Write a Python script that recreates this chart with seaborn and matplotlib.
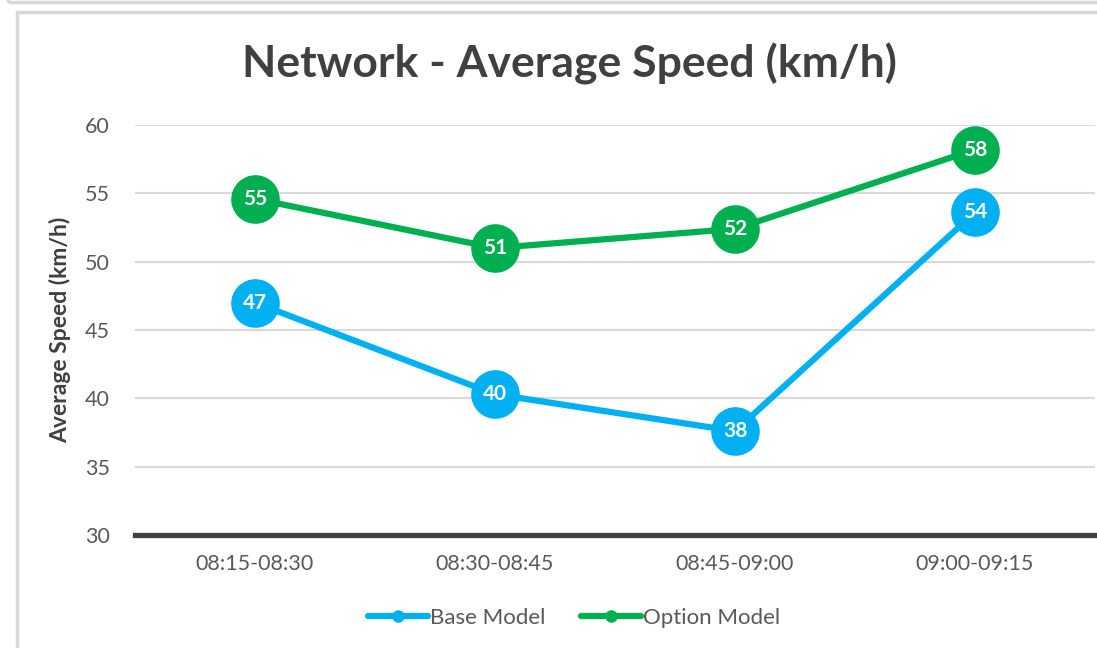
import matplotlib
matplotlib.use("Agg")
import matplotlib.pyplot as plt
import pandas as pd
import seaborn as sns
from matplotlib.lines import Line2D
from matplotlib.patches import Rectangle

periods = ["08:15-08:30", "08:30-08:45", "08:45-09:00", "09:00-09:15"]
base_speed = [47.0, 40.3, 37.6, 53.6]
option_speed = [54.6, 51.0, 52.4, 58.2]
series_names = ["Base Model", "Option Model"]
y_ticks = [30, 35, 40, 45, 50, 55, 60]

COLORS = {"Base Model": "#00B0F0", "Option Model": "#00B050"}
FONT = "Lato"

df = pd.DataFrame({
    "period": periods * 2,
    "speed": base_speed + option_speed,
    "model": [series_names[0]] * len(periods) + [series_names[1]] * len(periods),
})

sns.set_style("white")
plt.rcParams["font.family"] = [FONT, "DejaVu Sans"]

fig = plt.figure(figsize=(10.97, 6.48), dpi=100)
ax = fig.add_axes([135 / 1097, 1 - 535 / 648, 960 / 1097, 410 / 648])

# chart frame like a spreadsheet chart box
fig.patches.append(Rectangle((17 / 1097, -0.05), 1.2, 1 - 12 / 648 + 0.05,
                             transform=fig.transFigure, fill=False,
                             edgecolor="#D9D9D9", linewidth=2.5))
fig.patches.append(Rectangle((8 / 1097, 1 - 2 / 648), 1.2, 0.2,
                             transform=fig.transFigure, fill=False,
                             edgecolor="#D9D9D9", linewidth=2.5))

for name in series_names:
    sub = df[df["model"] == name]
    xs = [periods.index(p) for p in sub["period"]]
    sns.lineplot(x=xs, y=sub["speed"].values, ax=ax, color=COLORS[name],
                 linewidth=4.5, marker="o", markersize=35, markeredgewidth=0,
                 zorder=3, legend=False)
    for xv, yv in zip(xs, sub["speed"].values):
        ax.text(xv, yv, f"{round(yv):d}", ha="center", va="center",
                color="white", fontsize=15, fontweight="bold", zorder=4)

ax.set_xlim(-0.5, len(periods) - 0.5)
ax.set_ylim(30, 60)
ax.set_yticks(y_ticks)
ax.set_yticklabels([str(t) for t in y_ticks])
ax.set_xticks(range(len(periods)))
ax.set_xticklabels(periods)
ax.tick_params(axis="both", length=0, labelsize=15.5, labelcolor="#595959")
ax.tick_params(axis="y", pad=18)
ax.tick_params(axis="x", pad=14)

ax.grid(axis="y", color="#D9D9D9", linewidth=1.5, zorder=0)
ax.grid(axis="x", visible=False)
for side in ["top", "right", "left"]:
    ax.spines[side].set_visible(False)
ax.spines["bottom"].set_color("#404040")
ax.spines["bottom"].set_linewidth(3.8)
ax.spines["bottom"].set_zorder(2)

ax.set_xlabel("")
ax.set_ylabel("Average Speed (km/h)", fontsize=16.5, fontweight="bold",
              color="#404040", labelpad=10)

fig.text(569 / 1097, 1 - 64 / 648, "Network - Average Speed (km/h)",
         ha="center", va="center", fontsize=32, fontweight="bold", color="#404040")

handles = [Line2D([0], [0], color=COLORS[n], linewidth=4.5, marker="o",
                  markersize=9, markeredgewidth=0) for n in series_names]
fig.legend(handles, series_names, loc="center", bbox_to_anchor=(574 / 1097, 1 - 618 / 648),
           ncol=2, frameon=False, fontsize=16, labelcolor="#595959",
           handlelength=2.7, handletextpad=0.1, columnspacing=1.6)

fig.savefig("out.png", dpi=100)
